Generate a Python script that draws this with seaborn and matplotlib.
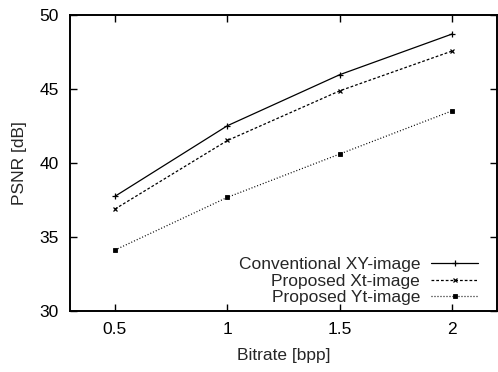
import matplotlib
matplotlib.use("Agg")
import matplotlib.pyplot as plt
import seaborn as sns
import pandas as pd

bitrate = [0.5, 1.0, 1.5, 2.0]
psnr_conventional_xy = [37.73, 42.50, 45.95, 48.70]
psnr_proposed_xt = [36.87, 41.50, 44.86, 47.55]
psnr_proposed_yt = [34.10, 37.66, 40.59, 43.51]

series_names = ["Conventional XY-image", "Proposed Xt-image", "Proposed Yt-image"]
x_ticks = [0.5, 1, 1.5, 2]
x_tick_labels = ["0.5", "1", "1.5", "2"]
y_ticks = [30, 35, 40, 45, 50]

sns.set_style("ticks")
plt.rcParams["font.family"] = ["Liberation Sans", "DejaVu Sans"]

FS = 12.5

fig = plt.figure(figsize=(4.98, 3.72), dpi=100)
ax = fig.add_axes([0.1406, 0.1648, 0.858, 0.7957])

styles = [
    dict(marker="+", linestyle="-", markersize=4.5, markeredgewidth=0.9),
    dict(marker="x", linestyle=(0, (2.2, 1.6)), markersize=3.5, markeredgewidth=0.9),
    dict(marker="s", linestyle=(0, (0.8, 1.6)), markersize=2.6, markeredgewidth=0.6),
]
values = [psnr_conventional_xy, psnr_proposed_xt, psnr_proposed_yt]

for name, vals, st in zip(series_names, values, styles):
    df = pd.DataFrame({"Bitrate": bitrate, "PSNR": vals})
    sns.lineplot(data=df, x="Bitrate", y="PSNR", ax=ax, color="black",
                 linewidth=0.9, label=name, markerfacecolor="black",
                 markeredgecolor="black", **st)

ax.set_xlim(0.3, 2.2)
ax.set_ylim(30, 50)
ax.set_xticks(x_ticks)
ax.set_xticklabels(x_tick_labels)
ax.set_yticks(y_ticks)
ax.set_xlabel("Bitrate [bpp]", fontsize=FS, labelpad=8)
ax.set_ylabel("PSNR [dB]", fontsize=FS, labelpad=9)

ax.tick_params(direction="in", length=5, width=1.0, top=True, right=True,
               labelsize=FS, pad=8, colors="black")
for sp in ax.spines.values():
    sp.set_visible(True)
    sp.set_linewidth(1.4)
    sp.set_color("black")

leg = ax.legend(loc="lower right", frameon=False, markerfirst=False,
                fontsize=FS, handlelength=2.7, handletextpad=0.63,
                labelspacing=0.08, numpoints=1, borderaxespad=0.3,
                borderpad=0.0, bbox_to_anchor=(0.967, 0.0))

fig.savefig("out.png", dpi=100)
